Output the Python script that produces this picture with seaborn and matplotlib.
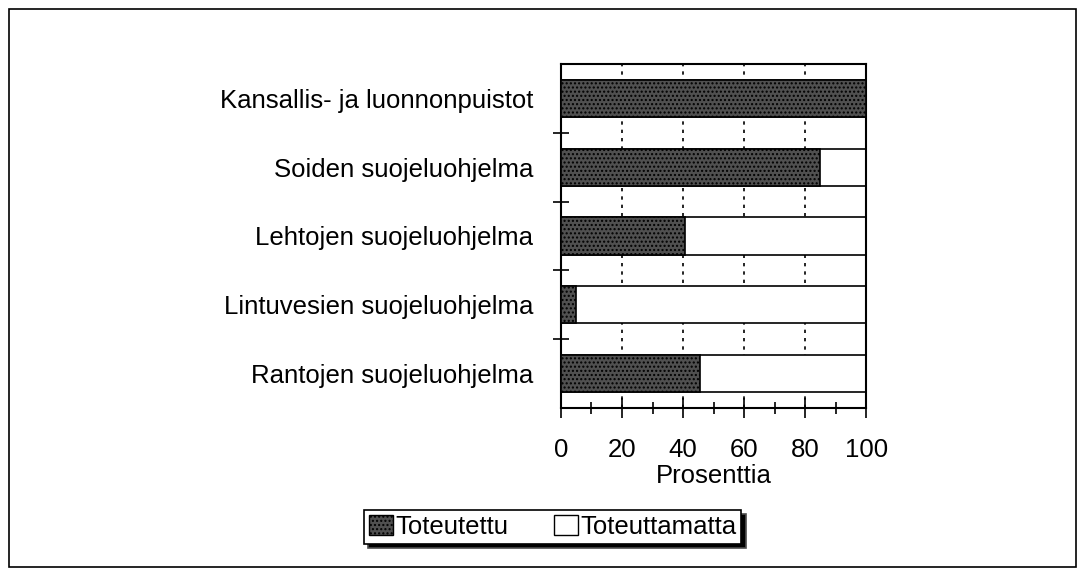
import matplotlib
matplotlib.use("Agg")
import matplotlib.pyplot as plt
from matplotlib.patches import Rectangle, Patch
from matplotlib.ticker import MultipleLocator, FixedLocator
import seaborn as sns
import pandas as pd

# data
categories = [
    "Kansallis- ja luonnonpuistot",
    "Soiden suojeluohjelma",
    "Lehtojen suojeluohjelma",
    "Lintuvesien suojeluohjelma",
    "Rantojen suojeluohjelma",
]
toteutettu = [100, 85, 40.5, 5, 45.5]
toteuttamatta = [0, 15, 59.5, 95, 54.5]
series_names = ["Toteutettu", "Toteuttamatta"]
x_ticks = [0, 20, 40, 60, 80, 100]

df = pd.DataFrame({
    "kohde": categories,
    "toteutettu": toteutettu,
    "yhteensa": [a + b for a, b in zip(toteutettu, toteuttamatta)],
})

sns.set_style("white")
plt.rcParams["font.family"] = ["Liberation Sans", "DejaVu Sans"]
plt.rcParams["text.color"] = "black"
plt.rcParams["axes.labelcolor"] = "black"
plt.rcParams["xtick.color"] = "black"
plt.rcParams["ytick.color"] = "black"

dark = "#505050"
fig = plt.figure(figsize=(10.84, 5.77), dpi=100)
ax = fig.add_axes([0.5175, 0.293, 0.2815, 0.596])

# white totals first, achieved part on top
sns.barplot(data=df, x="yhteensa", y="kohde", orient="h", color="white",
            edgecolor="black", linewidth=1.2, width=0.54, ax=ax, zorder=2)
sns.barplot(data=df, x="toteutettu", y="kohde", orient="h", color=dark,
            edgecolor="black", linewidth=1.2, width=0.54, ax=ax, zorder=3,
            hatch="....")

ax.set_xlim(0, 100)
ax.set_ylim(len(categories) - 0.5, -0.5)
ax.set_xticks(x_ticks)
ax.xaxis.set_minor_locator(MultipleLocator(10))
ax.yaxis.set_minor_locator(FixedLocator([0.5, 1.5, 2.5, 3.5]))
ax.tick_params(axis="both", which="both", bottom=True, left=True)
ax.tick_params(axis="x", which="major", direction="inout", length=14, width=1.2,
               labelsize=18.5, pad=15, color="black", labelcolor="black")
ax.tick_params(axis="x", which="minor", direction="inout", length=8, width=1.2, color="black")
ax.tick_params(axis="y", which="major", length=0, labelsize=18.5, pad=20, labelcolor="black")
ax.tick_params(axis="y", which="minor", direction="inout", length=12, width=1.2, color="black")
ax.set_xlabel("Prosenttia", fontsize=18.5, labelpad=1, color="black")
ax.set_ylabel("")
ax.grid(True, axis="x", which="major", color="black", linestyle=(0, (2, 3)), linewidth=1.2)
ax.set_axisbelow(True)
for s in ax.spines.values():
    s.set_visible(True)
    s.set_color("black")
    s.set_linewidth(1.5)

handles = [Patch(facecolor=dark, edgecolor="black", hatch="...."),
           Patch(facecolor="white", edgecolor="black")]
leg = fig.legend(handles, series_names, loc="center", bbox_to_anchor=(0.51, 0.087),
                 ncol=2, frameon=True, fancybox=False,
                 shadow={"facecolor": "black", "alpha": 1.0, "ox": 3, "oy": -3},
                 fontsize=18.5, handlelength=0.9, handleheight=0.8, handletextpad=0.1,
                 columnspacing=1.8, borderpad=0.2, labelcolor="black")
leg.get_frame().set_edgecolor("black")
leg.get_frame().set_linewidth(1.2)

fig.patches.append(Rectangle((0.008, 0.017), 0.985, 0.968, transform=fig.transFigure,
                             fill=False, edgecolor="black", linewidth=1.2))

fig.savefig("out.png", dpi=100)
